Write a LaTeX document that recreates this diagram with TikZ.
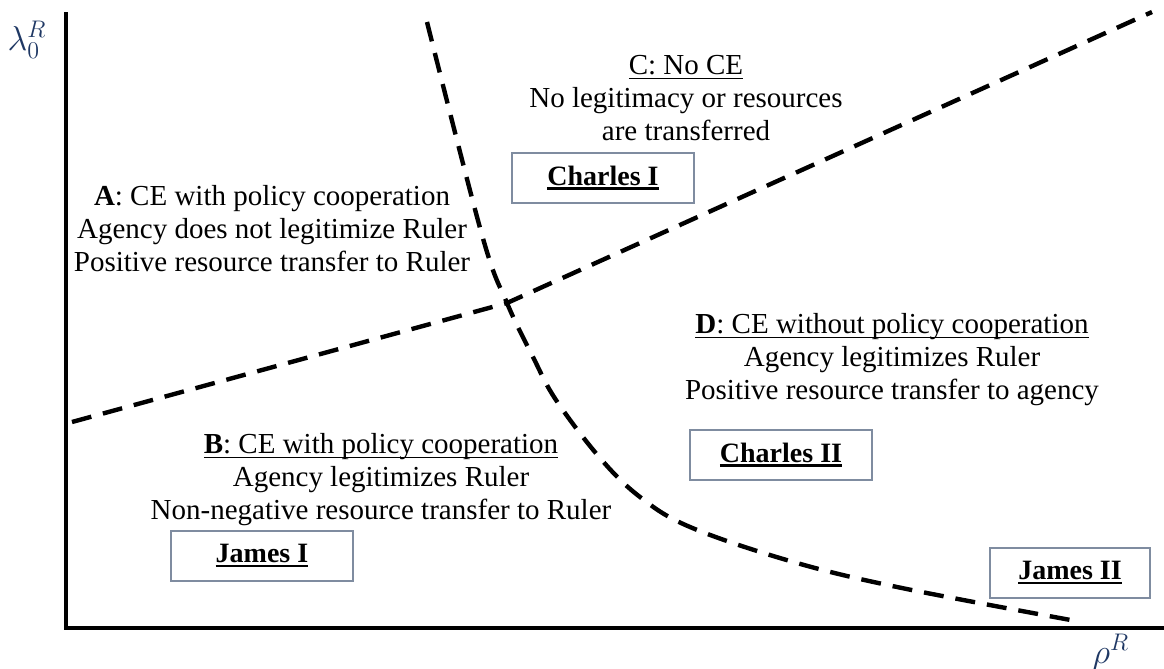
\documentclass[tikz,border=0pt]{standalone}
\usepackage{amsmath}
\usepackage{fontspec}
\setmainfont{Liberation Serif}
\definecolor{boxline}{HTML}{7F8CA0}
\definecolor{axislabel}{HTML}{1F3864}
\newcommand{\regionul}[2][0.5pt]{\setbox0\hbox{#2}\rlap{\rule[-2.2pt]{\wd0}{#1}}\box0}

\begin{document}
\begin{tikzpicture}[x=0.5pt,y=-0.5pt,
    region/.style={align=center,font=\fontsize{14.5}{16.5}\selectfont,inner sep=0pt},
    king/.style={draw=boxline,line width=1pt,minimum width=91pt,minimum height=25pt,font=\fontsize{14}{16}\selectfont\bfseries,inner sep=2pt},
    axisline/.style={line width=2pt},
    bound/.style={dash pattern=on 10pt off 6pt,line width=2.2pt}]
    \useasboundingbox (0,0) rectangle (1164,669);

    % axes
    \coordinate (ytop) at (66,12);
    \coordinate (O) at (66,628);
    \coordinate (xend) at (1164,628);
    \draw[axisline] (ytop) -- (O) -- (xend);
    \node[text=axislabel,font=\fontsize{17}{19}\selectfont] (ylab) at (27,40) {$\lambda_0^R$};
    \node[text=axislabel,font=\fontsize{17}{19}\selectfont] (xlab) at (1111,652) {$\rho^R$};

    % boundaries
    \coordinate (l0) at (72,422);
    \coordinate (lx) at (507,303);
    \coordinate (l1) at (1152,12);
    \draw[bound] (l0) -- (lx) -- (l1);
    \draw[bound] plot[smooth,tension=0.6] coordinates {(427,22) (482,235) (507,303) (533,357) (556,400) (600,458) (640,497) (690,527) (790,561) (897,587) (1076,621)};

    % regions
    \node[region] (A) at (272,229) {\textbf{A}: CE with policy cooperation\\Agency does not legitimize  Ruler\\Positive resource transfer to Ruler};
    \node[region] (B) at (381,480) {\regionul{\textbf{B}: CE with policy cooperation}\\Agency legitimizes  Ruler\\Non-negative resource transfer to Ruler};
    \node[region] (C) at (686,98) {\regionul{C: No CE}\\No legitimacy  or resources\\are transferred};
    \node[region] (D) at (892,360) {\regionul{\textbf{D}: CE without policy cooperation}\\Agency legitimizes  Ruler\\Positive resource transfer to agency};

    % rulers
    \node[king] (charlesI) at (603,178) {\regionul[1.3pt]{Charles I}};
    \node[king] (charlesII) at (781,455) {\regionul[1.3pt]{Charles II}};
    \node[king] (jamesI) at (262,556) {\regionul[1.3pt]{James I}};
    \node[king,minimum width=80pt] (jamesII) at (1070,573) {\regionul[1.3pt]{James II}};
\end{tikzpicture}
\end{document}
